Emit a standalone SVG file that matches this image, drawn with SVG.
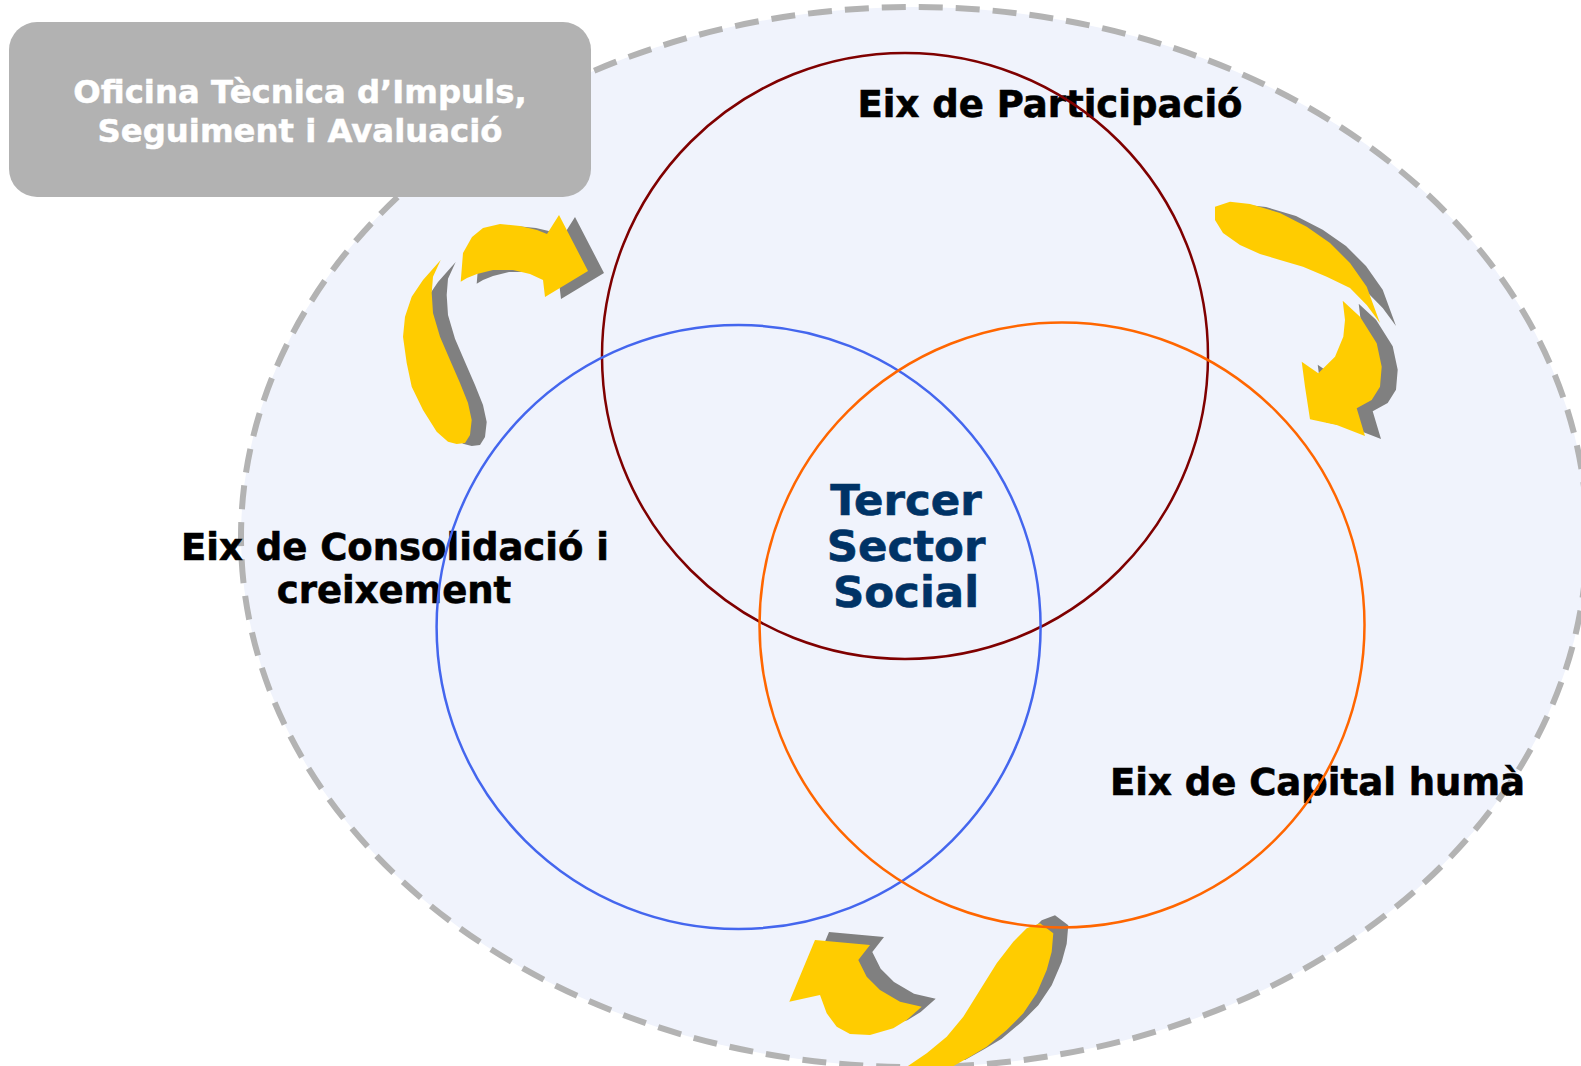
<svg xmlns="http://www.w3.org/2000/svg" xmlns:xlink="http://www.w3.org/1999/xlink" width="1581" height="1066" viewBox="0 0 1581 1066">
<style>
.lbl{font-family:"DejaVu Sans",Verdana,sans-serif;font-weight:bold;font-size:37px;fill:#000;stroke:#000;stroke-width:0.6;text-anchor:middle}
.core{font-family:"DejaVu Sans",Verdana,sans-serif;font-weight:bold;font-size:43.5px;fill:#003366;stroke:#003366;stroke-width:0.6;text-anchor:middle}
.boxt{font-family:"DejaVu Sans",Verdana,sans-serif;font-weight:bold;font-size:32.3px;fill:#fff;stroke:#fff;stroke-width:0.5;text-anchor:middle}
.ring{fill:none;stroke-width:2.5}
.yel{fill:#FFCC00}
.shd{fill:#808080}
</style>
<defs>
<path id="arrA" d="M460.7,281.7 L463,253 L472,237 L483,228 L500,224 L520,226 L537,230 L547,234 L559,215 L588,271 L545,297 L543,280 L530,274 L513,270 L493,270 L477,274 L467,278 Z"/>
<path id="arrB" d="M440.7,260 L423,280 L411.7,296.7 L405,316.7 L403,336.7 L406.7,363 L411.7,386.7 L423,410 L436.7,431.7 L448,441.7 L456.7,444 L465,443 L470,435 L471.7,420 L468,403 L460,383 L450,360 L440,336.7 L433,313 L431.7,293 L433,276.7 Z"/>
<path id="arrC" d="M1215,206.7 L1230,201.7 L1250,204 L1280,213 L1306.7,226.7 L1330,243 L1350,263 L1366.7,286.7 L1380,323 L1366.7,305 L1350,288 L1326.7,276.7 L1303,266.7 L1280,260 L1260,254 L1240,245 L1223,233 L1215,220 Z M1342.7,300.7 L1360,316.7 L1376.7,343.3 L1381.7,366.7 L1380,386.7 L1371.7,400 L1356.7,408.3 L1365,436 L1336.7,425 L1310,419.3 L1305,386.7 L1301.7,361.7 L1318.3,373.3 L1335,356.7 L1343.3,336.7 L1345,320 Z"/>
<path id="arrD" d="M789.3,1001.7 L815,940 L870,945 L858.3,960 L866.7,976.7 L880,990 L900,1001.7 L921.7,1006.7 L906.7,1020 L893.3,1028.3 L870,1035 L850,1034 L836.7,1026.7 L826.7,1013.3 L820,995 Z"/>
<path id="arrE" d="M1040,923.3 L1053.3,933.3 L1051.7,951.7 L1046.7,970 L1036.7,993.3 L1023.3,1013.3 L1006.7,1030 L986.7,1046.7 L970,1056.7 L950,1068 L905,1068 L926.7,1053.3 L946.7,1036.7 L963.3,1016.7 L980,990 L996.7,963.3 L1013.3,941.7 L1026.7,928.3 Z"/>
</defs>
<rect width="1581" height="1066" fill="#fff"/>
<g id="scope">
<ellipse cx="914" cy="537" rx="673" ry="530" fill="#F0F3FC" stroke="#B3B3B3" stroke-width="6" stroke-dasharray="24 13"/>
</g>
<g id="office">
<rect x="9" y="22" width="582" height="175" rx="28" ry="28" fill="#B2B2B2"/>
<text class="boxt" x="300" y="103">Oficina Tècnica d’Impuls,</text>
<text class="boxt" x="300" y="142">Seguiment i Avaluació</text>
</g>
<g id="connectors">
<use xlink:href="#arrA" class="shd" transform="translate(16,2)"/>
<use xlink:href="#arrA" class="yel"/>
<use xlink:href="#arrB" class="shd" transform="translate(15,2)"/>
<use xlink:href="#arrB" class="yel"/>
<use xlink:href="#arrC" class="shd" transform="translate(16,3)"/>
<use xlink:href="#arrC" class="yel"/>
<use xlink:href="#arrD" class="shd" transform="translate(14,-8)"/>
<use xlink:href="#arrD" class="yel"/>
<use xlink:href="#arrE" class="shd" transform="translate(15,-8)"/>
<use xlink:href="#arrE" class="yel"/>
</g>
<g id="participacio">
<text class="lbl" x="1050" y="117">Eix de Participació</text>
<circle class="ring" cx="905" cy="356" r="303" stroke="#7F0000"/>
</g>
<g id="consolidacio">
<text class="lbl" x="395" y="560">Eix de Consolidació i</text>
<text class="lbl" x="394" y="603">creixement</text>
<circle class="ring" cx="738.6" cy="627" r="302" stroke="#4466EE"/>
</g>
<g id="capital">
<text class="lbl" x="1317.5" y="795">Eix de Capital humà</text>
<circle class="ring" cx="1062" cy="625" r="302.5" stroke="#FF6600"/>
</g>
<g id="tercer-sector">
<text class="core" x="906" y="515">Tercer</text>
<text class="core" x="906" y="561">Sector</text>
<text class="core" x="906" y="607">Social</text>
</g>
</svg>
